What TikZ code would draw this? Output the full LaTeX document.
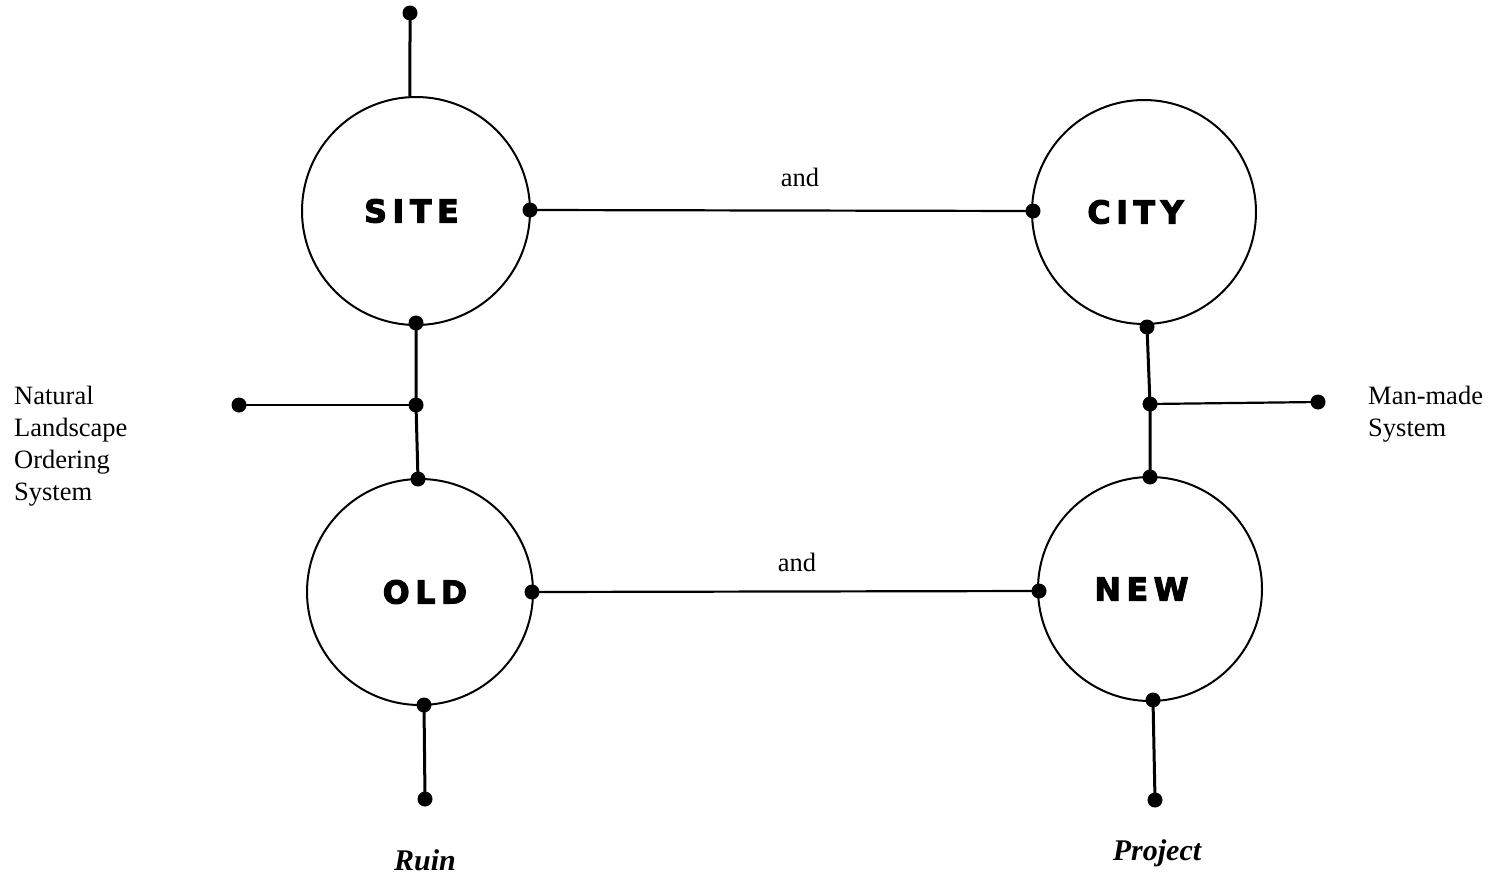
\documentclass[tikz,border=0pt]{standalone}
\usepackage{fontspec}
\setmainfont{Liberation Serif}
\newfontfamily\labfont[LetterSpace=18,FakeBold=3.5]{DejaVu Sans Bold}
\begin{document}
\begin{tikzpicture}[x=1pt,y=-1pt,
  big/.style={circle,draw,line width=2pt,inner sep=0pt,minimum size=#1,
    font=\labfont\fontsize{31.5}{32}\selectfont},
  dot/.style={circle,fill,inner sep=0pt,minimum size=15pt},
  stem/.style={line width=3pt},
  link/.style={line width=2.2pt},
  txt/.style={font=\fontsize{26.5}{32}\selectfont,inner sep=0pt},
  ital/.style={font=\bfseries\itshape\fontsize{30}{32}\selectfont,inner sep=0pt}]
\useasboundingbox (0,0) rectangle (1493,878);
% circles
\node[big=228pt] (site) at (416,211) {\kern-9pt SITE};
\node[big=224pt] (city) at (1144,212) {\kern-17pt CITY};
\node[big=226pt] (old) at (420,592) {\kern10pt OLD};
\node[big=224pt] (new) at (1150,589) {\kern-17pt NEW};
% dots
\node[dot] (topd) at (410,13) {};
\node[dot] (sR) at (530,210) {};
\node[dot] (sB) at (416,323) {};
\node[dot] (nj) at (416,405) {};
\node[dot] (nl) at (239,405) {};
\node[dot] (oT) at (418,479) {};
\node[dot] (oR) at (532,592) {};
\node[dot] (oB) at (424,705) {};
\node[dot] (oE) at (425,799) {};
\node[dot] (cL) at (1033,211) {};
\node[dot] (cB) at (1147,327) {};
\node[dot] (mj) at (1150,404) {};
\node[dot] (mr) at (1318,402) {};
\node[dot] (nT) at (1150,477) {};
\node[dot] (nL) at (1039,591) {};
\node[dot] (nB) at (1153,700) {};
\node[dot] (nE) at (1155,800) {};
% connectors
\draw[stem] (topd.center) -- (site.93);
\draw[link] (sR.center) -- (cL.center);
\draw[link] (oR.center) -- (nL.center);
\draw[stem] (sB.center) -- (nj.center) -- (oT.center);
\draw[link] (nj.center) -- (nl.center);
\draw[stem] (cB.center) -- (mj.center) -- (nT.center);
\draw[link] (mj.center) -- (mr.center);
\draw[stem] (oB.center) -- (oE.center);
\draw[stem] (nB.center) -- (nE.center);
% labels
\node[txt] (and1) at (800,177) {and};
\node[txt] (and2) at (797,562) {and};
\node[txt,anchor=north west,align=left] (nat) at (14,386) {Natural\\Landscape\\Ordering\\System};
\node[txt,anchor=north west,align=left] (man) at (1368,386) {Man-made\\System};
\node[ital] (ruin) at (425,860) {Ruin};
\node[ital] (proj) at (1157,853) {Project};
\end{tikzpicture}
\end{document}
